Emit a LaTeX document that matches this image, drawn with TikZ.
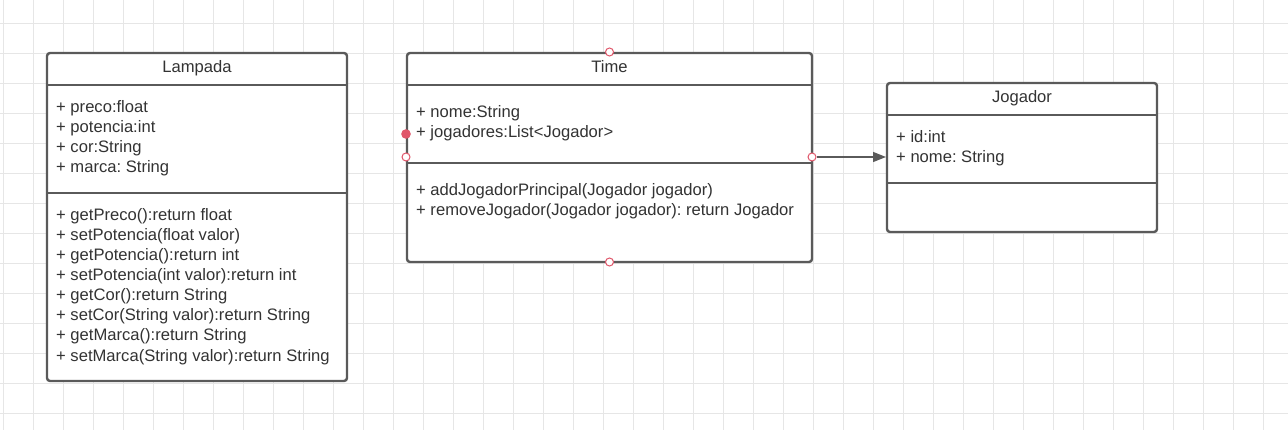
\documentclass[tikz,border=0pt]{standalone}
\usepackage{fontspec}
\setmainfont{Liberation Sans}
\frenchspacing
\usetikzlibrary{arrows.meta}
\definecolor{gridc}{HTML}{E6E6E6}
\definecolor{boxc}{HTML}{5A5A5A}
\definecolor{txtc}{HTML}{333333}
\definecolor{handc}{HTML}{E0566A}
\tikzset{
  classbox/.style={draw=boxc, line width=2.4pt, rounded corners=3pt, fill=white},
  divider/.style={draw=boxc, line width=2.4pt},
  txt/.style={anchor=base west, inner sep=0pt, text=txtc, font=\fontsize{16.6}{19}\selectfont},
  ttl/.style={anchor=base, inner sep=0pt, text=txtc, font=\fontsize{16.6}{19}\selectfont},
  handle/.style={circle, draw=handc, fill=white, line width=1pt, minimum size=8pt, inner sep=0pt},
  handlefill/.style={circle, draw=handc, fill=handc, line width=1pt, minimum size=8.5pt, inner sep=0pt},
  conn/.style={draw=boxc, line width=1.4pt, -{Triangle[length=13pt,width=10pt]}}
}
\begin{document}
\begin{tikzpicture}[x=1pt,y=-1pt]
\useasboundingbox (0,0) rectangle (1288,430);
\fill[white] (0,0) rectangle (1288,430);
% grid
\foreach \gx in {3,33,...,1288} \draw[gridc, line width=0.9pt] (\gx,0) -- (\gx,430);
\foreach \gy in {23,53,...,430} \draw[gridc, line width=0.9pt] (0,\gy) -- (1288,\gy);

% Lampada
\draw[classbox] (47,53) rectangle (347,381);
\draw[divider] (47,85) -- (347,85);
\draw[divider] (47,193) -- (347,193);
\node[ttl] (lt) at (197,73) {Lampada};
\node[txt] (la1) at (56,113) {+ preco:float};
\node[txt] (la2) at (56,133) {+ potencia:int};
\node[txt] (la3) at (56,153) {+ cor:String};
\node[txt] (la4) at (56,173) {+ marca: String};
\node[txt] (lm1) at (56,221) {+ getPreco():return float};
\node[txt] (lm2) at (56,241) {+ setPotencia(float valor)};
\node[txt] (lm3) at (56,261) {+ getPotencia():return int};
\node[txt] (lm4) at (56,281) {+ setPotencia(int valor):return int};
\node[txt] (lm5) at (56,301) {+ getCor():return String};
\node[txt] (lm6) at (56,321) {+ setCor(String valor):return String};
\node[txt] (lm7) at (56,341) {+ getMarca():return String};
\node[txt] (lm8) at (56,361) {+ setMarca(String valor):return String};

% Time
\draw[classbox] (407,53) rectangle (812,262);
\draw[divider] (407,85) -- (812,85);
\draw[divider] (407,163) -- (812,163);
\node[ttl] (tt) at (609.5,73) {Time};
\node[txt] (ta1) at (416,118) {+ nome:String};
\node[txt] (ta2) at (416,138) {+ jogadores:List<Jogador>};
\node[txt] (tm1) at (416,196) {+ addJogadorPrincipal(Jogador jogador)};
\node[txt] (tm2) at (416,216) {+ removeJogador(Jogador jogador): return Jogador};

% Jogador
\draw[classbox] (887,83) rectangle (1157,232);
\draw[divider] (887,115) -- (1157,115);
\draw[divider] (887,183) -- (1157,183);
\node[ttl] (jt) at (1022,103) {Jogador};
\node[txt] (ja1) at (896,143) {+ id:int};
\node[txt] (ja2) at (896,163) {+ nome: String};

% connector
\coordinate (jin) at (886,157);
\node[handle] (hr) at (812,157) {};
\draw[conn] (hr) -- (jin);

% handles
\node[handle] (ht) at (609.5,52) {};
\node[handle] (hb) at (609.5,262) {};
\node[handle] (hl) at (406,157) {};
\node[handlefill] (hf) at (406,134) {};
\end{tikzpicture}
\end{document}
